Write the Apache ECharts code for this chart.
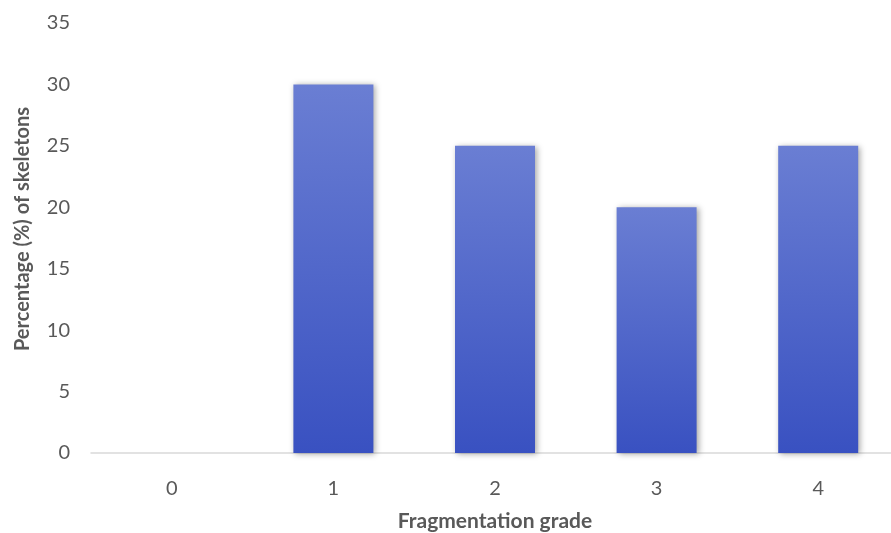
<!DOCTYPE html>
<html><head><meta charset="utf-8">
<script src="https://cdn.jsdelivr.net/npm/echarts@6/dist/echarts.min.js"></script>
<style>html,body{margin:0;padding:0;background:#fff}#c{width:891px;height:533px}</style>
</head><body><div id="c"></div>
<script>
const categories = ['0', '1', '2', '3', '4'];
const values = [0, 30, 25, 20, 25];
const yTicks = [0, 5, 10, 15, 20, 25, 30, 35];

const chart = echarts.init(document.getElementById('c'));
chart.setOption({
  animation: false,
  grid: { left: 91, right: -8, top: 23, bottom: 80, containLabel: false, outerBoundsMode: 'none' },
  xAxis: {
    type: 'category', data: categories,
    name: 'Fragmentation grade', nameLocation: 'middle', nameGap: 58,
    nameTextStyle: { fontFamily: 'Lato', fontSize: 21, fontWeight: 'bold', color: '#595959' },
    axisLine: { lineStyle: { color: '#d9d9d9', width: 1.5 } },
    axisTick: { show: false },
    axisLabel: { fontFamily: 'Lato', fontSize: 20, color: '#595959', margin: 26 }
  },
  yAxis: {
    type: 'value', min: 0, max: 35, interval: 5,
    name: 'Percentage (%) of skeletons', nameLocation: 'middle', nameGap: 58,
    nameTextStyle: { fontFamily: 'Lato', fontSize: 20, fontWeight: 'bold', color: '#595959', padding: [0, 0, 0, 18] },
    axisLine: { show: false }, axisTick: { show: false },
    splitLine: { show: false },
    axisLabel: { fontFamily: 'Lato', fontSize: 20, color: '#595959', margin: 21,
      formatter: v => yTicks.includes(v) ? String(v) : '' }
  },
  series: [{
    type: 'bar', data: values, barWidth: 80,
    itemStyle: {
      color: new echarts.graphic.LinearGradient(0, 0, 0, 1, [
        { offset: 0, color: '#6a7ed3' },
        { offset: 1, color: '#3951c1' }
      ]),
      shadowColor: 'rgba(0,0,0,0.35)', shadowBlur: 6, shadowOffsetX: 2, shadowOffsetY: 1
    }
  }]
});
</script></body></html>
